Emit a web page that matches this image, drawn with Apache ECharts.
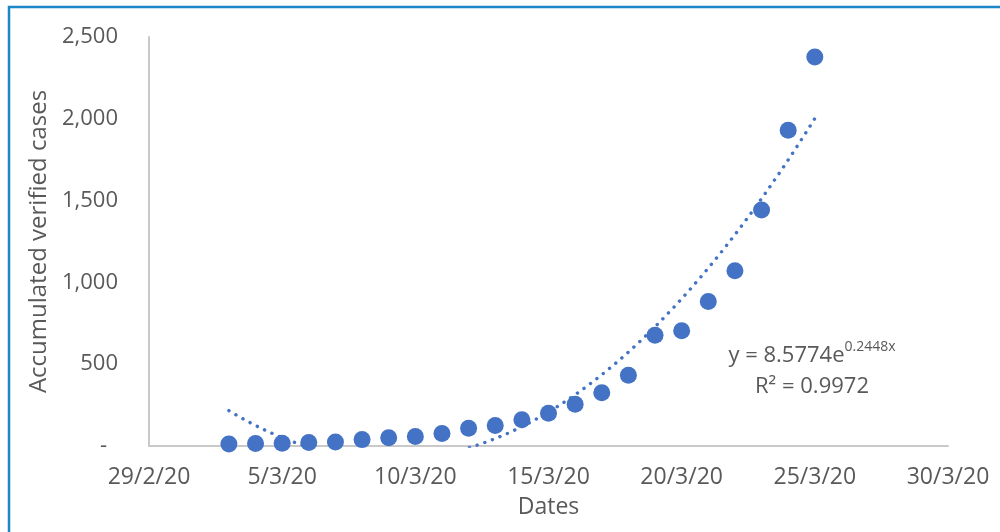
<!DOCTYPE html>
<html>
<head>
<meta charset="utf-8">
<title>Accumulated verified cases</title>
<script src="https://cdn.jsdelivr.net/npm/echarts@6/dist/echarts.min.js"></script>
<style>
  html, body { margin: 0; padding: 0; background: #ffffff; }
  #chart { width: 1000px; height: 532px; }
</style>
</head>
<body>
<div id="chart"></div>
<script>
// Daily accumulated verified cases, 3 March to 25 March 2020
const dates = ['3/3/20', '4/3/20', '5/3/20', '6/3/20', '7/3/20', '8/3/20', '9/3/20', '10/3/20',
  '11/3/20', '12/3/20', '13/3/20', '14/3/20', '15/3/20', '16/3/20', '17/3/20', '18/3/20',
  '19/3/20', '20/3/20', '21/3/20', '22/3/20', '23/3/20', '24/3/20', '25/3/20'];
const cases = [12, 15, 17, 21, 25, 39, 50, 58, 77, 109, 126, 161, 200, 255, 326, 433,
  677, 705, 883, 1071, 1442, 1930, 2378];

// Axis tick labels (x axis every 5 days from 29 Feb 2020)
const xTickLabels = ['29/2/20', '5/3/20', '10/3/20', '15/3/20', '20/3/20', '25/3/20', '30/3/20'];
const yTicks = [0, 500, 1000, 1500, 2000, 2500];

// Trendline annotation
const eqMain = 'y = 8.5774e';
const eqExp = '0.2448x';
const eqR2 = 'R² = 0.9972';

const DAY = 86400000;
const origin = Date.UTC(2020, 1, 29);
function dayOffset(s) {
  const [d, m, y] = s.split('/').map(Number);
  return Math.round((Date.UTC(2000 + y, m - 1, d) - origin) / DAY);
}
const xs = dates.map(dayOffset);
const points = xs.map((x, i) => [x, cases[i]]);

// Least-squares quadratic trendline through the observed points
function quadFit(x, y) {
  const n = x.length;
  let s = [0, 0, 0, 0, 0], t = [0, 0, 0];
  for (let i = 0; i < n; i++) {
    let p = 1;
    for (let k = 0; k <= 4; k++) { s[k] += p; if (k <= 2) t[k] += p * y[i]; p *= x[i]; }
  }
  const A = [[s[0], s[1], s[2], t[0]], [s[1], s[2], s[3], t[1]], [s[2], s[3], s[4], t[2]]];
  for (let c = 0; c < 3; c++) {
    for (let r = c + 1; r < 3; r++) {
      const f = A[r][c] / A[c][c];
      for (let k = c; k < 4; k++) A[r][k] -= f * A[c][k];
    }
  }
  const b = [0, 0, 0];
  for (let r = 2; r >= 0; r--) {
    let v = A[r][3];
    for (let k = r + 1; k < 3; k++) v -= A[r][k] * b[k];
    b[r] = v / A[r][r];
  }
  return b; // c0 + c1 x + c2 x^2
}
const coef = quadFit(xs, cases);
const trend = [];
const x0 = xs[0], x1 = xs[xs.length - 1];
for (let x = x0; x <= x1 + 1e-9; x += 0.1) {
  trend.push([x, coef[0] + coef[1] * x + coef[2] * x * x]);
}

const textColor = '#595959';
const axisColor = '#c9c9c9';
const blue = '#4472C4';
const font = '"Open Sans", "Noto Sans", sans-serif';

const chart = echarts.init(document.getElementById('chart'), null, { renderer: 'canvas' });
chart.setOption({
  animation: false,
  backgroundColor: '#ffffff',
  grid: { left: 149, right: 52, top: 37, bottom: 86, containLabel: false },
  xAxis: {
    type: 'value',
    min: 0,
    max: 30,
    interval: 5,
    name: 'Dates',
    nameLocation: 'middle',
    nameGap: 50,
    nameTextStyle: { color: textColor, fontSize: 23, fontFamily: font },
    axisLine: { show: true, onZero: false, lineStyle: { color: axisColor, width: 2 } },
    axisTick: { show: false },
    splitLine: { show: false },
    axisLabel: {
      color: textColor, fontSize: 23, fontFamily: font, margin: 20,
      formatter: v => xTickLabels[Math.round(v / 5)] || ''
    }
  },
  yAxis: {
    type: 'value',
    min: yTicks[0],
    max: yTicks[yTicks.length - 1],
    interval: 500,
    name: 'Accumulated verified cases',
    nameLocation: 'middle',
    nameGap: 91,
    nameTextStyle: { color: textColor, fontSize: 24, fontFamily: font },
    axisLine: { show: true, lineStyle: { color: axisColor, width: 2 } },
    axisTick: { show: false },
    splitLine: { show: false },
    axisLabel: {
      color: textColor, fontSize: 22, fontFamily: font, margin: 31,
      formatter: v => v === 0 ? '{z|-}' : v.toLocaleString('en-US'),
      rich: { z: { color: textColor, fontSize: 22, fontFamily: font, padding: [0, 11, 0, 0] } }
    }
  },
  series: [
    {
      name: 'Accumulated verified cases',
      type: 'scatter',
      data: points,
      symbol: 'circle',
      symbolSize: 17,
      itemStyle: { color: blue, opacity: 1 },
      z: 2
    },
    {
      name: 'Trendline',
      type: 'line',
      data: trend,
      showSymbol: false,
      smooth: false,
      clip: true,
      lineStyle: { color: blue, width: 3.4, type: [0.1, 8], cap: 'round' },
      z: 3
    }
  ],
  graphic: [
    {
      type: 'rect',
      shape: { x: 9, y: 7, width: 1200, height: 700 },
      style: { fill: 'none', stroke: '#1b87c6', lineWidth: 2.5 },
      silent: true
    },
    {
      type: 'text',
      x: 812,
      y: 371,
      style: {
        text: '{m|' + eqMain + '}{s|' + eqExp + '}\n{m|' + eqR2 + '}',
        align: 'center',
        verticalAlign: 'middle',
        rich: {
          m: { fontSize: 22, fontFamily: font, fill: textColor, color: textColor, lineHeight: 31 },
          s: { fontSize: 14, fontFamily: font, fill: textColor, color: textColor, lineHeight: 31, verticalAlign: 'top', padding: [0, 0, 6, 0] }
        }
      }
    }
  ]
});
</script>
</body>
</html>
